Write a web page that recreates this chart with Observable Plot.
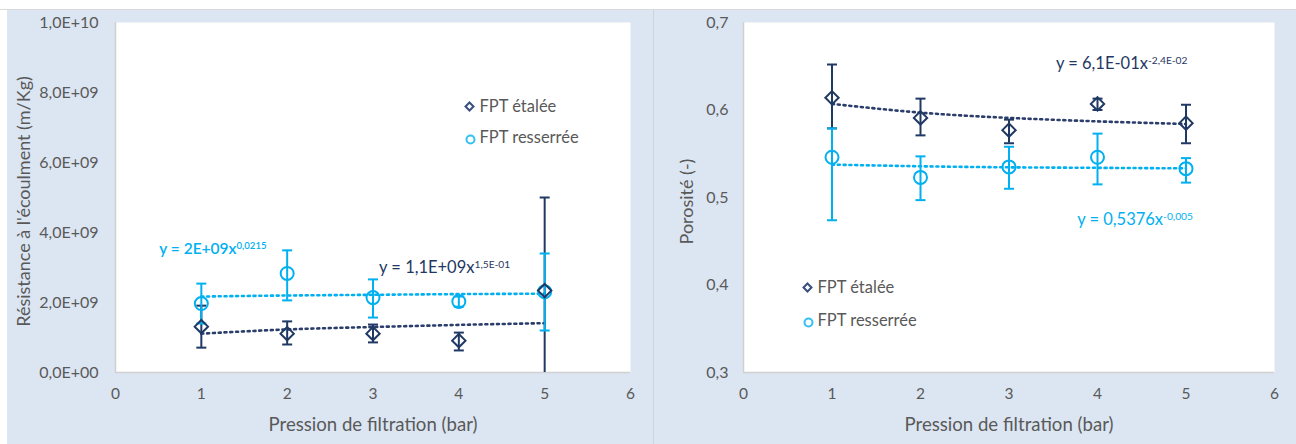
<!DOCTYPE html>
<html><head><meta charset="utf-8">
<script src="https://cdn.jsdelivr.net/npm/d3@7"></script>
<script src="https://cdn.jsdelivr.net/npm/@observablehq/plot@0.6"></script>
<style>
html,body{margin:0;padding:0;background:#fff;}
body{width:1296px;height:444px;position:relative;overflow:hidden;font-family:Lato,sans-serif;}
.panel{position:absolute;top:10px;height:434px;background:#dce6f2;box-sizing:border-box;}
#topline{position:absolute;left:0;top:9px;width:1296px;height:1px;background:#d9d9d9;}
#sep{position:absolute;left:653px;top:10px;width:1px;height:434px;background:#d0d4da;}
#left{left:7px;width:646px;}
#right{left:654px;width:642px;}
.panel svg{display:block;}
</style></head><body>
<div id="topline"></div>
<div id="left" class="panel"></div>
<div id="sep"></div>
<div id="right" class="panel"></div>
<script>
// ---------- data ----------
const pressure = [1, 2, 3, 4, 5];
const xTicks = [0, 1, 2, 3, 4, 5, 6];

// Left chart: flow resistance (m/Kg)
const resEtalee      = [1.31e9, 1.11e9, 1.11e9, 0.91e9, 2.34e9];
const resEtaleeLow   = [0.71e9, 0.80e9, 0.86e9, 0.63e9, -0.32e9];
const resEtaleeHigh  = [1.91e9, 1.46e9, 1.37e9, 1.14e9, 5.00e9];
const resEtaleeTrend = [1.11e9, 1.23e9, 1.30e9, 1.36e9, 1.41e9];
const resSerree      = [1.97e9, 2.83e9, 2.14e9, 2.03e9, 2.31e9];
const resSerreeLow   = [1.40e9, 2.06e9, 1.57e9, 1.88e9, 1.20e9];
const resSerreeHigh  = [2.54e9, 3.49e9, 2.66e9, 2.17e9, 3.40e9];
const resSerreeTrend = [2.17e9, 2.20e9, 2.22e9, 2.24e9, 2.25e9];
const resYTicks  = [0, 2e9, 4e9, 6e9, 8e9, 1e10];
const resYLabels = ["0,0E+00", "2,0E+09", "4,0E+09", "6,0E+09", "8,0E+09", "1,0E+10"];

// Right chart: porosity (-)
const porEtalee      = [0.614, 0.591, 0.577, 0.607, 0.585];
const porEtaleeLow   = [0.579, 0.571, 0.562, 0.600, 0.562];
const porEtaleeHigh  = [0.652, 0.613, 0.589, 0.613, 0.606];
const porEtaleeTrend = [0.607, 0.597, 0.591, 0.587, 0.584];
const porSerree      = [0.546, 0.523, 0.535, 0.546, 0.533];
const porSerreeLow   = [0.474, 0.497, 0.510, 0.515, 0.517];
const porSerreeHigh  = [0.579, 0.547, 0.558, 0.573, 0.545];
const porSerreeTrend = [0.5376, 0.5357, 0.5345, 0.5339, 0.5333];
const porYTicks  = [0.3, 0.4, 0.5, 0.6, 0.7];
const porYLabels = ["0,3", "0,4", "0,5", "0,6", "0,7"];

const seriesNames = ["FPT étalée", "FPT resserrée"];
const xTitle = "Pression de filtration (bar)";
const resYTitle = "Résistance à l'écoulment (m/Kg)";
const porYTitle = "Porosité (-)";
const resEqEtalee = "y = 1,1E+09x^1,5E-01";
const resEqSerree = "y = 2E+09x^0,0215";
const porEqEtalee = "y = 6,1E-01x^-2,4E-02";
const porEqSerree = "y = 0,5376x^-0,005";

// ---------- styling ----------
const DARK = "#1f3864";
const DARK_TREND = "#2b3d6b";
const LIGHT = "#00b0f0";
const TEXT = "#595959";
const AXIS = "#d0d0d0";

const cap = {draw(ctx) { ctx.moveTo(-5, 0); ctx.lineTo(5, 0); }};

function rows(y, lo, hi, trend) {
  return pressure.map((x, i) => ({x, y: y[i], lo: lo[i], hi: hi[i], t: trend[i]}));
}

function chart(cfg) {
  const E = rows(...cfg.etalee), S = rows(...cfg.serree);
  const labelMap = new Map(cfg.yTicks.map((v, i) => [v, cfg.yLabels[i]]));
  const dots = "2 3.8";
  const svg = Plot.plot({
    width: cfg.width, height: 434,
    marginLeft: cfg.ml, marginRight: cfg.mr, marginTop: 12, marginBottom: 72,
    style: {background: "transparent", fontFamily: "Lato, sans-serif", overflow: "visible"},
    x: {domain: [0, 6], axis: null},
    y: {domain: cfg.yDomain, axis: null},
    marks: [
      Plot.frame({fill: "white", stroke: null}),
      Plot.ruleX([0], {stroke: AXIS, strokeWidth: 1.5}),
      Plot.ruleY([cfg.yDomain[0]], {stroke: AXIS, strokeWidth: 1.5}),
      // axes
      Plot.axisX(xTicks, {tickSize: 0, tickPadding: 15, tickFormat: d => String(d), fontSize: 15.5, fill: TEXT, label: null}),
      Plot.axisY(cfg.yTicks, {tickSize: 0, tickPadding: cfg.tp, tickFormat: d => labelMap.get(d), fontSize: 16, fill: TEXT, label: null}),
      // trendlines
      Plot.line(E, {x: "x", y: "t", curve: "natural", stroke: DARK_TREND, strokeWidth: 2.6, strokeDasharray: dots}),
      Plot.line(S, {x: "x", y: "t", curve: "natural", stroke: LIGHT, strokeWidth: 2.6, strokeDasharray: dots}),
      // error bars
      Plot.ruleX(E, {x: "x", y1: "lo", y2: "hi", stroke: DARK, strokeWidth: 2, clip: true}),
      Plot.dot(E.filter(d => d.lo >= cfg.yDomain[0]), {x: "x", y: "lo", symbol: cap, stroke: DARK, strokeWidth: 2}),
      Plot.dot(E, {x: "x", y: "hi", symbol: cap, stroke: DARK, strokeWidth: 2}),
      Plot.ruleX(S, {x: "x", y1: "lo", y2: "hi", stroke: LIGHT, strokeWidth: 2, clip: true}),
      Plot.dot(S, {x: "x", y: "lo", symbol: cap, stroke: LIGHT, strokeWidth: 2}),
      Plot.dot(S, {x: "x", y: "hi", symbol: cap, stroke: LIGHT, strokeWidth: 2}),
      // markers
      Plot.dot(S, {x: "x", y: "y", r: 6.5, symbol: "circle", stroke: LIGHT, strokeWidth: 2, fill: "none"}),
      Plot.dot(E, {x: "x", y: "y", r: 6, symbol: "diamond2", stroke: DARK, strokeWidth: 2, fill: "none"}),
      // equations
      Plot.text([cfg.eqE], {x: cfg.eqEPos[0], y: cfg.eqEPos[1], textAnchor: "start", lineAnchor: "middle", fill: DARK, fontSize: 16.5}),
      Plot.text([cfg.eqS], {x: cfg.eqSPos[0], y: cfg.eqSPos[1], textAnchor: "start", lineAnchor: "middle", fill: LIGHT, fontSize: cfg.eqSSize, fontWeight: cfg.eqSWeight}),
      // legend
      Plot.dot([seriesNames[0]], {frameAnchor: "top-left", dx: cfg.leg[0], dy: cfg.leg[1], r: 3.6, symbol: "diamond2", stroke: "#3a4f7f", strokeWidth: 2, fill: "none"}),
      Plot.dot([seriesNames[1]], {frameAnchor: "top-left", dx: cfg.leg[0] + 1, dy: cfg.leg[2] + 2, r: 4, symbol: "circle", stroke: "#33c0f3", strokeWidth: 2, fill: "none"}),
      Plot.text([seriesNames[0]], {frameAnchor: "top-left", dx: cfg.leg[0] + 10, dy: cfg.leg[1], textAnchor: "start", lineAnchor: "middle", fill: TEXT, fontSize: 16.5}),
      Plot.text([seriesNames[1]], {frameAnchor: "top-left", dx: cfg.leg[0] + 10, dy: cfg.leg[2], textAnchor: "start", lineAnchor: "middle", fill: TEXT, fontSize: 16.5}),
      // axis titles
      Plot.text([xTitle], {frameAnchor: "bottom", dy: 53, textAnchor: "middle", lineAnchor: "middle", fill: TEXT, fontSize: 18.6}),
      Plot.text([cfg.yTitle], {frameAnchor: "left", dx: -cfg.yTitleOff, dy: 4, rotate: -90, textAnchor: "middle", lineAnchor: "middle", fill: TEXT, fontSize: 18})
    ]
  });
  // superscripts for trendline equations
  svg.querySelectorAll("text").forEach(t => {
    const s = t.textContent;
    if (s.includes("^")) {
      const [a, b] = s.split("^");
      t.textContent = "";
      const ns = "http://www.w3.org/2000/svg";
      const t1 = document.createElementNS(ns, "tspan"); t1.textContent = a;
      const t2 = document.createElementNS(ns, "tspan"); t2.textContent = b;
      t2.setAttribute("dy", "-0.45em"); t2.setAttribute("font-size", "0.62em");
      t.append(t1, t2);
    }
  });
  return svg;
}

document.getElementById("left").append(chart({
  width: 646, ml: 108, mr: 23, tp: 17,
  yDomain: [0, 1e10], yTicks: resYTicks, yLabels: resYLabels,
  etalee: [resEtalee, resEtaleeLow, resEtaleeHigh, resEtaleeTrend],
  serree: [resSerree, resSerreeLow, resSerreeHigh, resSerreeTrend],
  eqE: resEqEtalee, eqEPos: [3.07, 3.0e9],
  eqS: resEqSerree, eqSPos: [0.51, 3.54e9], eqSWeight: 600, eqSSize: 15.5,
  leg: [354, 84, 115],
  yTitle: resYTitle, yTitleOff: 91
}));

document.getElementById("right").append(chart({
  width: 642, ml: 89, mr: 22, tp: 15,
  yDomain: [0.3, 0.7], yTicks: porYTicks, yLabels: porYLabels,
  etalee: [porEtalee, porEtaleeLow, porEtaleeHigh, porEtaleeTrend],
  serree: [porSerree, porSerreeLow, porSerreeHigh, porSerreeTrend],
  eqE: porEqEtalee, eqEPos: [3.53, 0.653],
  eqS: porEqSerree, eqSPos: [3.77, 0.475], eqSWeight: 400, eqSSize: 16.5,
  leg: [64, 265, 298],
  yTitle: porYTitle, yTitleOff: 56
}));
</script>
</body></html>
